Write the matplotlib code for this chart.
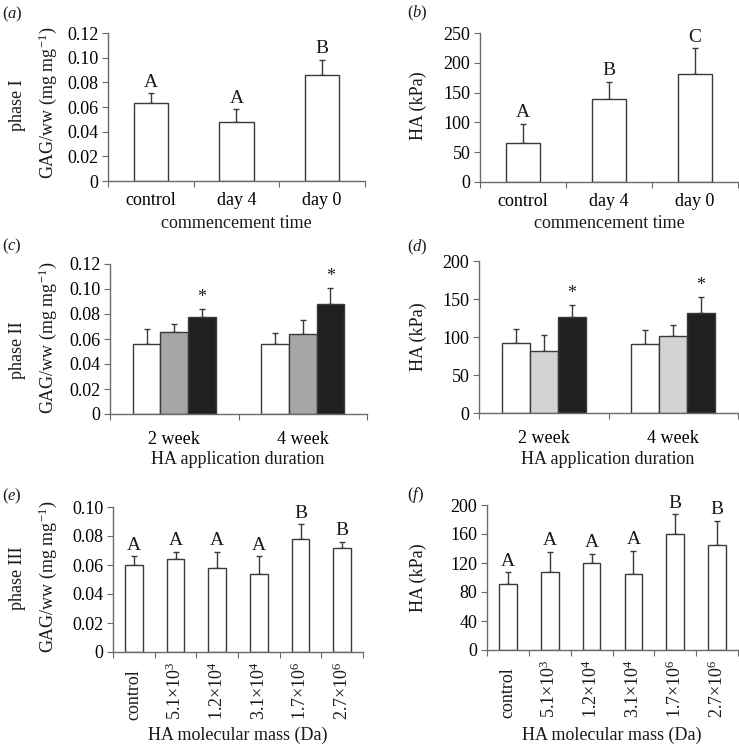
import numpy as np
import matplotlib
matplotlib.use("Agg")
import matplotlib.pyplot as plt
from matplotlib.ticker import FuncFormatter

plt.rcParams["font.family"] = ["Liberation Serif", "DejaVu Serif"]
plt.rcParams["mathtext.fontset"] = "custom"
plt.rcParams["mathtext.rm"] = "Liberation Serif"
plt.rcParams["mathtext.it"] = "Liberation Serif:italic"

# phase I: commencement time
comm_labels = ["control", "day 4", "day 0"]
a_gag = [0.063, 0.048, 0.086]
a_gag_err = [0.008, 0.010, 0.012]
a_letters = ["A", "A", "B"]
b_ha = [66, 140, 182]
b_ha_err = [32, 28, 42]
b_letters = ["A", "B", "C"]

# phase II: application duration (white / grey / black groups)
dur_labels = ["2 week", "4 week"]
c_white = [0.056, 0.056]
c_white_err = [0.012, 0.009]
c_grey = [0.066, 0.064]
c_grey_err = [0.006, 0.011]
c_black = [0.078, 0.088]
c_black_err = [0.006, 0.013]
d_white = [92, 91]
d_white_err = [18, 18]
d_grey = [82, 101]
d_grey_err = [20, 15]
d_black = [126, 132]
d_black_err = [16, 21]

# phase III: molecular mass
mass_labels = ["control", "5.1×10$^3$", "1.2×10$^4$", "3.1×10$^4$",
               "1.7×10$^6$", "2.7×10$^6$"]
e_gag = [0.060, 0.064, 0.058, 0.054, 0.078, 0.072]
e_gag_err = [0.006, 0.005, 0.011, 0.012, 0.010, 0.004]
e_letters = ["A", "A", "A", "A", "B", "B"]
f_ha = [91, 108, 120, 105, 160, 145]
f_ha_err = [16, 27, 13, 32, 27, 33]
f_letters = ["A", "A", "A", "A", "B", "B"]

W, H = 739, 747
FS = 13
AXC = "#6a6a6a"
EDGE = "#3a3a3a"
TXT = "#1a1a1a"
fig = plt.figure(figsize=(W / 100, H / 100), dpi=100)


def px_axes(l, r, t, b):
    return fig.add_axes([l / W, 1 - b / H, (r - l) / W, (b - t) / H])


def ftext(x, y, s, **kw):
    kw.setdefault("fontsize", FS)
    kw.setdefault("ha", "center")
    kw.setdefault("va", "center")
    fig.text(x / W, 1 - y / H, s, color=TXT, **kw)


def style(ax, ymax, ystep, n, fmt, pad=8):
    for s in ["top", "right"]:
        ax.spines[s].set_visible(False)
    for s in ["left", "bottom"]:
        ax.spines[s].set_color(AXC)
        ax.spines[s].set_linewidth(1.0)
    ax.set_ylim(0, ymax)
    ax.set_yticks(np.arange(0, ymax + ystep / 2, ystep))
    ax.yaxis.set_major_formatter(FuncFormatter(fmt))
    ax.set_xlim(-0.5, n - 0.5)
    ax.set_xticks(np.arange(-0.5, n, 1.0))
    ax.set_xticklabels([])
    ax.set_xticks(np.arange(n), minor=True)
    ax.tick_params(axis="x", which="major", direction="out", length=4, color=AXC)
    ax.tick_params(axis="x", which="minor", length=0, labelsize=FS, pad=pad)
    ax.tick_params(axis="y", direction="out", length=4, color=AXC, labelsize=FS, pad=3)


def bars(ax, x, vals, errs, width, color):
    ax.bar(x, vals, width, color=color, edgecolor=EDGE, linewidth=1.0, zorder=2)
    ax.errorbar(x, vals, yerr=[np.zeros(len(vals)), errs], fmt="none",
                ecolor=EDGE, elinewidth=1.0, capsize=2.5, capthick=1.0, zorder=1)


def marks(ax, x, vals, errs, labels, size=FS + 1):
    for xi, v, e, lab in zip(x, vals, errs, labels):
        ax.annotate(lab, (xi, v + e), xytext=(0, 2), textcoords="offset points",
                    ha="center", va="bottom", fontsize=size, color=TXT,
                    annotation_clip=False)


def vert_labels(ax, labels):
    # rotated labels share a common baseline end (start of string at the bottom)
    for i, lab in enumerate(labels):
        ax.annotate(lab, (i, 0), xycoords=("data", "axes fraction"),
                    xytext=(0, -49), textcoords="offset points", rotation=90,
                    ha="center", va="bottom", fontsize=FS, color=TXT,
                    annotation_clip=False)


gag_fmt = lambda v, p: "0" if abs(v) < 1e-9 else f"{v:.2f}"
int_fmt = lambda v, p: f"{v:.0f}"

# (a)
ax = px_axes(108, 365, 33, 181)
style(ax, 0.12, 0.02, 3, gag_fmt)
x = np.arange(3)
bars(ax, x, a_gag, a_gag_err, 0.4, "white")
marks(ax, x, a_gag, a_gag_err, a_letters)
ax.set_xticklabels(comm_labels, minor=True)
ftext(236, 223, "commencement time")

# (b)
ax = px_axes(480, 738, 33, 182)
style(ax, 250, 50, 3, int_fmt)
bars(ax, x, b_ha, b_ha_err, 0.4, "white")
marks(ax, x, b_ha, b_ha_err, b_letters)
ax.set_xticklabels(comm_labels, minor=True)
ftext(609, 223, "commencement time")

# (c)
ax = px_axes(110, 367, 264, 414)
style(ax, 0.12, 0.02, 2, gag_fmt, 12)
g = np.arange(2)
w = 0.215
bars(ax, g - w, c_white, c_white_err, w, "white")
bars(ax, g, c_grey, c_grey_err, w, "#a6a6a8")
bars(ax, g + w, c_black, c_black_err, w, "#221f20")
marks(ax, g + w, c_black, c_black_err, ["*", "*"], size=FS)
ax.set_xticklabels(dur_labels, minor=True)
ftext(238, 460, "HA application duration")

# (d)
ax = px_axes(479, 738, 261, 413)
style(ax, 200, 50, 2, int_fmt, 12)
bars(ax, g - w, d_white, d_white_err, w, "white")
bars(ax, g, d_grey, d_grey_err, w, "#d2d3d5")
bars(ax, g + w, d_black, d_black_err, w, "#221f20")
marks(ax, g + w, d_black, d_black_err, ["*", "*"], size=FS)
ax.set_xticklabels(dur_labels, minor=True)
ftext(608, 460, "HA application duration")

# (e)
ax = px_axes(113, 363, 507, 652)
style(ax, 0.10, 0.02, 6, gag_fmt)
x6 = np.arange(6)
bars(ax, x6, e_gag, e_gag_err, 0.42, "white")
marks(ax, x6, e_gag, e_gag_err, e_letters)
vert_labels(ax, mass_labels)
ftext(238, 735, "HA molecular mass (Da)")

# (f)
ax = px_axes(487, 738, 505, 650)
style(ax, 200, 40, 6, int_fmt)
bars(ax, x6, f_ha, f_ha_err, 0.42, "white")
marks(ax, x6, f_ha, f_ha_err, f_letters)
vert_labels(ax, mass_labels)
ftext(612, 735, "HA molecular mass (Da)")

# y labels
ftext(18, 105, "phase I", rotation=90)
ftext(18, 350, "phase II", rotation=90)
ftext(18, 578, "phase III", rotation=90)
gag_lab = "GAG/ww (mg mg$^{-1}$)"
ftext(48, 103, gag_lab, rotation=90)
ftext(48, 338, gag_lab, rotation=90)
ftext(48, 577, gag_lab, rotation=90)
ftext(418, 106, "HA (kPa)", rotation=90)
ftext(418, 337, "HA (kPa)", rotation=90)
ftext(418, 578, "HA (kPa)", rotation=90)

# panel labels
for px, py, lab in [(12, 14, "a"), (417, 13, "b"), (12, 246, "c"),
                    (417, 247, "d"), (12, 496, "e"), (416, 495, "f")]:
    ftext(px, py, f"(${lab}$)", fontsize=FS - 1)

fig.savefig("out.png", dpi=100)
